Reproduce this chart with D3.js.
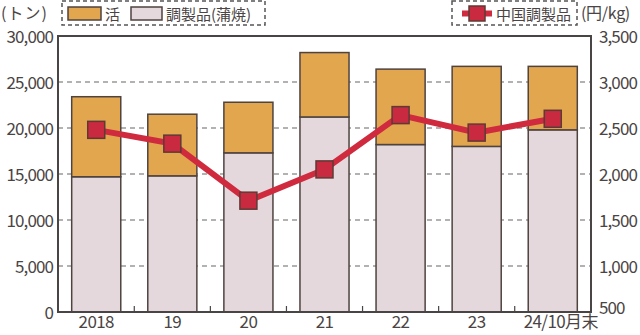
<!DOCTYPE html>
<html>
<head>
<meta charset="utf-8">
<script src="https://cdn.jsdelivr.net/npm/d3@7"></script>
<style>
  body { margin: 0; background: #fff; }
  svg text { font-family: "Noto Sans CJK JP", "Noto Sans", sans-serif; fill: #4a4444; }
</style>
</head>
<body>
<div class="chart"></div>
<script>
// data
const years = ["2018", "19", "20", "21", "22", "23", "24/10月末"]
const prepared = [14700, 14800, 17300, 21200, 18200, 18000, 19800]   // 調製品(蒲焼)
const live = [8700, 6700, 5500, 7000, 8200, 8700, 6900]              // 活
const chinaPrice = [2480, 2330, 1710, 2050, 2640, 2450, 2600]        // 中国調製品 円/kg
const leftTicks = [0, 5000, 10000, 15000, 20000, 25000, 30000]
const rightTicks = [500, 1000, 1500, 2000, 2500, 3000, 3500]

const width = 640, height = 335
const margin = {top: 36, right: 49, bottom: 23, left: 58}

const svg = d3.select(".chart").append("svg")
    .attr("width", width)
    .attr("height", height)

let x = d3.scaleBand()
    .domain(years)
    .range([margin.left, width - margin.right])
    .paddingInner(0.355)
    .paddingOuter(0.18)

let y = d3.scaleLinear().domain([0, 30000]).range([height - margin.bottom, margin.top])
let y2 = d3.scaleLinear().domain([500, 3500]).range([height - margin.bottom, margin.top])

const fmt = d3.format(",")

// dashed grid, bars go on top of it
svg.append("g")
    .selectAll("line")
    .data(leftTicks.slice(1, -1))
    .enter()
    .append("line")
    .attr("x1", margin.left)
    .attr("x2", width - margin.right)
    .attr("y1", d => y(d))
    .attr("y2", d => y(d))
    .attr("stroke", "#6a6464")
    .attr("stroke-width", 1.2)
    .attr("stroke-dasharray", "5,4")

// stacked bars
const stackData = years.map((yr, i) => ({year: yr, prepared: prepared[i], live: live[i]}))
const series = d3.stack().keys(["prepared", "live"])(stackData)
const colors = {prepared: "#e4d8dd", live: "#e2a64e"}

svg.append("g")
    .selectAll("g")
    .data(series)
    .enter()
    .append("g")
    .attr("fill", d => colors[d.key])
    .selectAll("rect")
    .data(d => d)
    .enter()
    .append("rect")
    .attr("x", d => x(d.data.year))
    .attr("width", x.bandwidth())
    .attr("y", d => y(d[1]))
    .attr("height", d => y(d[0]) - y(d[1]))
    .attr("stroke", "#4f4340")
    .attr("stroke-width", 1.5)

// frame
svg.append("rect")
    .attr("x", margin.left)
    .attr("y", margin.top)
    .attr("width", width - margin.left - margin.right)
    .attr("height", height - margin.top - margin.bottom)
    .attr("fill", "none")
    .attr("stroke", "#4a4545")
    .attr("stroke-width", 2)

// small ticks between the bars
const step = x.step()
svg.append("g")
    .selectAll("line")
    .data(years.slice(1))
    .enter()
    .append("line")
    .attr("x1", d => x(d) - (step - x.bandwidth()) / 2)
    .attr("x2", d => x(d) - (step - x.bandwidth()) / 2)
    .attr("y1", height - margin.bottom)
    .attr("y2", height - margin.bottom - 6)
    .attr("stroke", "#4a4545")
    .attr("stroke-width", 1.2)

// axes
let leftAxis = d3.axisLeft(y).tickValues(leftTicks).tickFormat(fmt).tickSize(0).tickPadding(5)
let gl = svg.append("g").attr("transform", "translate(" + margin.left + ",0)").call(leftAxis)
gl.select(".domain").remove()
gl.selectAll("text").style("font-size", "17px").style("letter-spacing", "-0.9px").attr("dy", "0.36em")

let rightAxis = d3.axisRight(y2).tickValues(rightTicks).tickFormat(fmt).tickSize(0).tickPadding(8)
let gr = svg.append("g").attr("transform", "translate(" + (width - margin.right) + ",0)").call(rightAxis)
gr.select(".domain").remove()
gr.selectAll("text").style("font-size", "17px").style("letter-spacing", "-0.9px").attr("dy", "0.36em")
gr.selectAll(".tick").filter(d => d === 500).select("text").attr("dy", "0.1em")

let bottomAxis = d3.axisBottom(x).tickSize(0).tickPadding(4)
let gb = svg.append("g").attr("transform", "translate(0," + (height - margin.bottom) + ")").call(bottomAxis)
gb.select(".domain").remove()
gb.selectAll("text").style("font-size", "17px").style("letter-spacing", "-0.6px")
gb.selectAll(".tick").filter(d => d === "24/10月末").attr("transform", "translate(" + (x("24/10月末") + x.bandwidth() / 2 + 8) + ",0)")

// price line
let line = d3.line()
    .x((d, i) => x(years[i]) + x.bandwidth() / 2)
    .y(d => y2(d))

svg.append("path")
    .datum(chinaPrice)
    .attr("d", line)
    .attr("fill", "none")
    .attr("stroke", "#cf2a3e")
    .attr("stroke-width", 6)

const ms = 17
svg.append("g")
    .selectAll("rect")
    .data(chinaPrice)
    .enter()
    .append("rect")
    .attr("x", (d, i) => x(years[i]) + x.bandwidth() / 2 - ms / 2)
    .attr("y", d => y2(d) - ms / 2)
    .attr("width", ms)
    .attr("height", ms)
    .attr("fill", "#c92a40")
    .attr("stroke", "#5e3a35")
    .attr("stroke-width", 1.5)

// unit labels
svg.append("text").text("(トン)").attr("x", 1).attr("y", 19).style("font-size", "16px").style("letter-spacing", "1px")
svg.append("text").text("(円/kg)").attr("x", 581).attr("y", 19).style("font-size", "16px").style("letter-spacing", "-0.3px")

// legend boxes
const dashed = {stroke: "#555", "stroke-width": 1.5, "stroke-dasharray": "4,3", fill: "none"}
let lb = svg.append("rect").attr("x", 62).attr("y", 1).attr("width", 203).attr("height", 24)
let rb = svg.append("rect").attr("x", 452).attr("y", 1).attr("width", 125).attr("height", 24)
for (const k in dashed) { lb.attr(k, dashed[k]); rb.attr(k, dashed[k]) }

svg.append("rect").attr("x", 68).attr("y", 7).attr("width", 33).attr("height", 13)
    .attr("fill", colors.live).attr("stroke", "#4f4340").attr("stroke-width", 1.5)
svg.append("text").text("活").attr("x", 105).attr("y", 19.5).style("font-size", "15px")
svg.append("rect").attr("x", 131).attr("y", 7).attr("width", 31).attr("height", 13)
    .attr("fill", colors.prepared).attr("stroke", "#4f4340").attr("stroke-width", 1.5)
svg.append("text").text("調製品(蒲焼)").attr("x", 166).attr("y", 19.5).style("font-size", "15px")

svg.append("line").attr("x1", 462).attr("x2", 492).attr("y1", 13.5).attr("y2", 13.5)
    .attr("stroke", "#cf2a3e").attr("stroke-width", 6)
svg.append("rect").attr("x", 469).attr("y", 6).attr("width", 16).attr("height", 15)
    .attr("fill", "#c92a40").attr("stroke", "#5e3a35").attr("stroke-width", 1.5)
svg.append("text").text("中国調製品").attr("x", 496).attr("y", 19.5).style("font-size", "15px")
</script>
</body>
</html>
